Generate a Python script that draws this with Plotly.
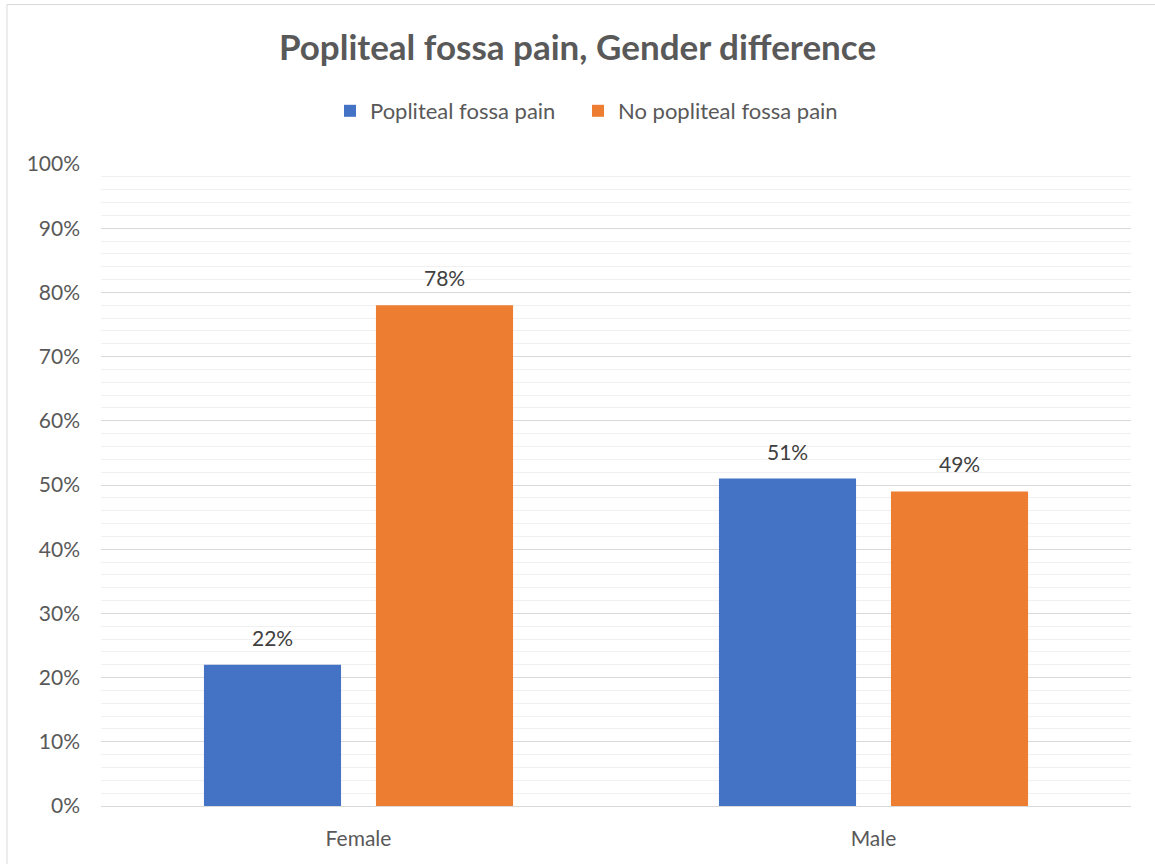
import plotly.graph_objects as go

categories = ["Female", "Male"]
series_names = ["Popliteal fossa pain", "No popliteal fossa pain"]
pain_values = [22, 51]
no_pain_values = [78, 49]
colors = ["#4472C4", "#ED7D31"]
tick_vals = list(range(0, 101, 10))
tick_text = [f"{v}%" for v in tick_vals]

FONT = "Lato, 'Open Sans', sans-serif"
TXT = "#595959"

W, H = 1155, 864
L, R, T, B = 101, 1131, 164, 806
SLOT = 172  # pixel distance between bar centres inside a group
legend_ids = ["legend", "legend2"]
legend_left_px = [330, 578]

fig = go.Figure()
for k, (name, vals, col) in enumerate(zip(series_names, [pain_values, no_pain_values], colors)):
    fig.add_trace(go.Bar(
        x=categories, y=vals, name=name, marker=dict(color=col, line=dict(width=0)),
        legend=legend_ids[k],
    ))
    shift = (k - 0.5) * SLOT
    for cat, v in zip(categories, vals):
        fig.add_annotation(x=cat, y=v, xref="x", yref="y", text=f"{v}%", showarrow=False,
                           xshift=shift, yshift=13, yanchor="bottom", xanchor="center",
                           font=dict(family=FONT, size=21, color="#404040"))

legend_style = dict(orientation="h", xanchor="left", y=1 - 111 / H, yanchor="middle",
                    yref="container", font=dict(family=FONT, size=22, color=TXT),
                    itemwidth=30, bgcolor="rgba(0,0,0,0)")
fig.update_layout(
    width=W, height=H,
    margin=dict(l=L, r=W - R, t=T, b=H - B, autoexpand=False),
    paper_bgcolor="white", plot_bgcolor="white",
    barmode="group", bargap=0.332, bargroupgap=0.203,
    title=dict(text="<b>Popliteal fossa pain, Gender difference</b>", x=0.5, xanchor="center",
               y=1 - 48 / H, yanchor="middle",
               font=dict(family=FONT, size=35, color=TXT)),
    legend=dict(x=(legend_left_px[0] - L) / (R - L), **legend_style),
    legend2=dict(x=(legend_left_px[1] - L) / (R - L), **legend_style),
    font=dict(family=FONT, color=TXT),
    showlegend=True,
)
fig.update_xaxes(showgrid=False, showline=True, linecolor="#D9D9D9", linewidth=1,
                 tickfont=dict(family=FONT, size=21, color=TXT), ticks="", ticklabelstandoff=14)
fig.update_yaxes(range=[0, 100], tickvals=tick_vals, ticktext=tick_text,
                 showgrid=True, gridcolor="#D9D9D9", gridwidth=1, zeroline=False,
                 minor=dict(dtick=2, showgrid=True, gridcolor="#F0F0F0", gridwidth=1),
                 tickfont=dict(family=FONT, size=21, color=TXT), ticks="", ticklabelstandoff=20)
fig.add_shape(type="rect", xref="paper", yref="paper",
              x0=(7 - L) / (R - L), x1=(W + 5 - L) / (R - L),
              y0=(B - H - 5) / (B - T), y1=(B - 4.5) / (B - T),
              line=dict(color="#D9D9D9", width=1), fillcolor="rgba(0,0,0,0)", layer="below")
fig.write_html("out.html")
